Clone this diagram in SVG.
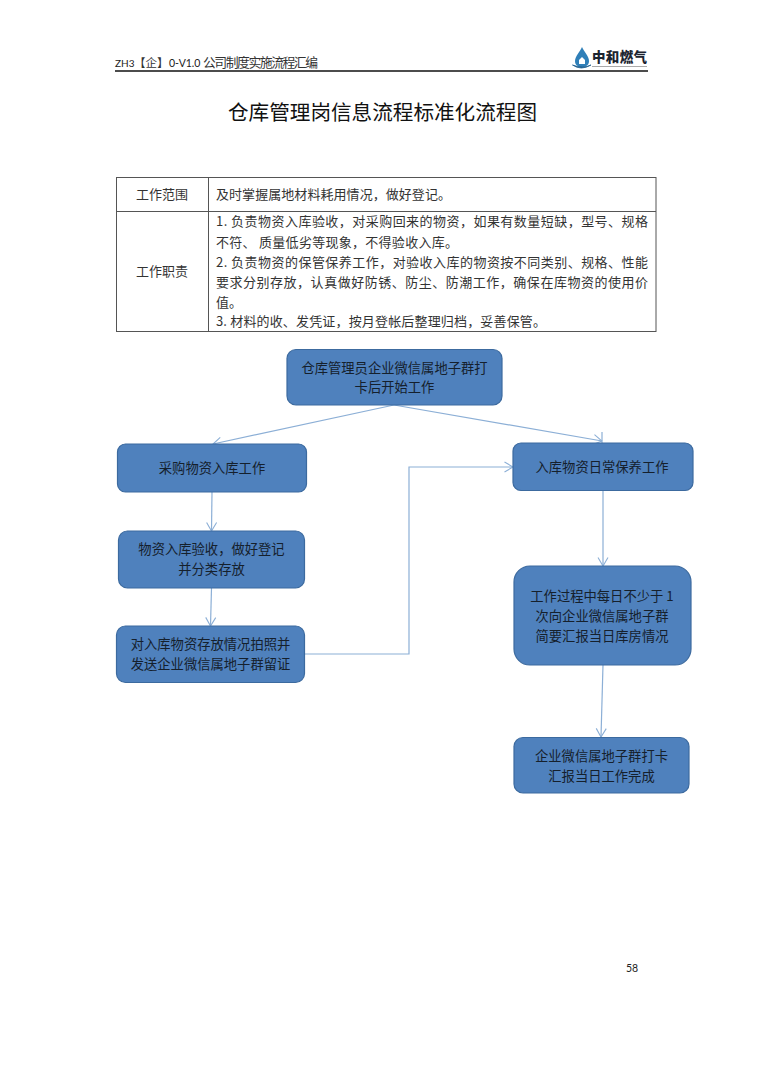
<svg xmlns="http://www.w3.org/2000/svg" width="764" height="1080" viewBox="0 0 764 1080">
<style>
text{font-family:"Noto Sans CJK SC","Liberation Sans",sans-serif;}
.hd{font-size:12.8px;fill:#333;}
.lat{font-family:Lato,"Liberation Sans",sans-serif;font-size:10.5px;fill:#222;}
.title{font-size:20.6px;fill:#111;}
.cell{font-size:13px;fill:#333;}
.ctr{text-anchor:middle;}
.node rect{fill:#4f81bd;stroke:#3c6a9f;stroke-width:1.2;}
.node text{font-size:13.3px;fill:#15202c;text-anchor:middle;}
.conn{fill:none;stroke:#8cafd6;stroke-width:1.2;}
.grid{fill:none;stroke:#555;stroke-width:1;}
</style>
<defs>
<marker id="arr" viewBox="0 0 10 12" refX="9.5" refY="6" markerWidth="10" markerHeight="12" markerUnits="userSpaceOnUse" orient="auto">
<path d="M1 1L9.5 6L1 11" fill="none" stroke="#8cafd6" stroke-width="1.1"/>
</marker>
</defs>
<rect width="764" height="1080" fill="#fff"/>
<g id="header">
<text x="115" y="66.500" class="lat" font-size="10" style="font-size:10px">ZH3</text>
<text x="134" y="66.500" class="hd" style="font-size:11.500px">【企】</text>
<text x="169" y="66.500" class="lat">0-V1.0</text>
<text x="203" y="66.500" class="hd" textLength="115">公司制度实施流程汇编</text>
<line x1="115" y1="71" x2="648" y2="71" stroke="#111" stroke-width="1.4"/>
</g>
<g id="logo">
<path d="M582 47C584 52 589 56 589 61C589 65 586 67 582 67C578 67 575 65 575 61C575 56 580 52 582 47Z" fill="#2f7fb8"/>
<path d="M582 57L585 60V64H579V60Z" fill="#fff"/>
<path d="M572.500 65Q581 71 591 65Q583 69 572.500 65Z" fill="#1f5f8f" stroke="#1f5f8f" stroke-width="0.8"/>
<text x="592" y="62" font-size="13.500" font-weight="900" fill="#1c2430" textLength="55">中和燃气</text>
<line x1="592" y1="66.500" x2="647" y2="66.500" stroke="#aaa" stroke-width="1"/>
</g>
<text id="title" x="382.500" y="120" class="title ctr" textLength="309">仓库管理岗信息流程标准化流程图</text>
<g id="table">
<rect x="116.500" y="177.500" width="539.500" height="154" class="grid"/>
<line x1="208.500" y1="177.500" x2="208.500" y2="331.500" class="grid"/>
<line x1="116.500" y1="211.500" x2="656" y2="211.500" class="grid"/>
<text x="162" y="198.500" class="cell ctr" textLength="52">工作范围</text>
<text x="162" y="276" class="cell ctr" textLength="52">工作职责</text>
<text x="216" y="198.500" class="cell" textLength="235">及时掌握属地材料耗用情况，做好登记。</text>
<text x="216" y="226" class="cell" textLength="432">1. 负责物资入库验收，对采购回来的物资，如果有数量短缺，型号、规格</text>
<text x="216" y="246.500" class="cell" textLength="242">不符、 质量低劣等现象，不得验收入库。</text>
<text x="216" y="266.500" class="cell" textLength="432">2. 负责物资的保管保养工作，对验收入库的物资按不同类别、规格、性能</text>
<text x="216" y="287" class="cell" textLength="432">要求分别存放，认真做好防锈、防尘、防潮工作，确保在库物资的使用价</text>
<text x="216" y="307" class="cell" textLength="26">值。</text>
<text x="216" y="326" class="cell" textLength="330">3. 材料的收、发凭证，按月登帐后整理归档，妥善保管。</text>
</g>
<g id="connectors">
<path class="conn" marker-end="url(#arr)" d="M394 405L213 444"/>
<path class="conn" marker-end="url(#arr)" d="M394 405L602 441"/>
<path class="conn" d="M602 432V443"/>
<path class="conn" marker-end="url(#arr)" d="M212 492L211.500 531"/>
<path class="conn" marker-end="url(#arr)" d="M211.500 588L210.500 626"/>
<path class="conn" marker-end="url(#arr)" d="M304.500 654H409V467H513"/>
<path class="conn" marker-end="url(#arr)" d="M603 491V566"/>
<path class="conn" marker-end="url(#arr)" d="M603 665L601 737"/>
</g>
<g id="n1" class="node"><rect x="287" y="349.500" width="215" height="55.500" rx="9"/>
<text x="394.500" y="372.500">仓库管理员企业微信属地子群打</text><text x="394.500" y="392">卡后开始工作</text></g>
<g id="n2" class="node"><rect x="117.500" y="444" width="189" height="48" rx="8"/>
<text x="212" y="472.500">采购物资入库工作</text></g>
<g id="n3" class="node"><rect x="118.500" y="531" width="186" height="57" rx="9"/>
<text x="211.500" y="554">物资入库验收，做好登记</text><text x="211.500" y="574">并分类存放</text></g>
<g id="n4" class="node"><rect x="116.500" y="626" width="188" height="56.500" rx="9"/>
<text x="210.500" y="648.500">对入库物资存放情况拍照并</text><text x="210.500" y="669">发送企业微信属地子群留证</text></g>
<g id="n5" class="node"><rect x="513" y="443" width="180" height="47.500" rx="8"/>
<text x="602" y="471.500">入库物资日常保养工作</text></g>
<g id="n6" class="node"><rect x="514" y="566" width="177" height="99" rx="16"/>
<text x="602" y="601">工作过程中每日不少于 1</text><text x="602" y="621">次向企业微信属地子群</text><text x="602" y="641">简要汇报当日库房情况</text></g>
<g id="n7" class="node"><rect x="514" y="737.500" width="175" height="55.500" rx="9"/>
<text x="601.500" y="760.500">企业微信属地子群打卡</text><text x="601.500" y="780.500">汇报当日工作完成</text></g>
<text id="page" x="626" y="971.500" class="lat">58</text>
</svg>
